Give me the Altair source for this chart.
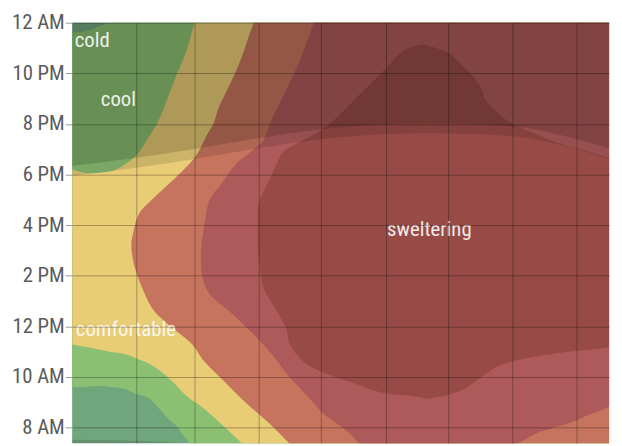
import altair as alt
import pandas as pd

# ---------------- data ----------------
# x: day of year (0 = Jan 1), y: hour of day (24 = 12 AM at top)
MONTH_STARTS = [31, 59, 90, 120, 151, 181, 212, 243]
HOUR_TICKS = [8, 10, 12, 14, 16, 18, 20, 22, 24]

# "cool" band: per day, lower (morning) and upper (night) hour limits
cool_day = [0, 5.7, 11.4, 14.3, 18.5, 25.7, 30.4, 36.6, 42.8, 46.1, 50.9, 54.2, 56.6, 62, 262]
cool_lo = [9.61, 9.61, 9.65, 9.65, 9.61, 9.53, 9.34, 9.18, 8.67, 8.36, 8.01, 7.62, 7.39, 6.8, 6.5]
cool_hi = [23.61, 23.65, 23.80, 23.90, 24.0, 24.5, 24.8, 25, 25, 25, 25, 25, 25, 25, 25]

# "comfortable" band
comf_day = [0, 8.1, 17.6, 25.7, 31.9, 36.6, 41.4, 49.5, 55.6, 59.0, 60.4, 65, 73.2, 80.8, 90, 262]
comf_lo = [11.29, 11.17, 11.01, 10.90, 10.70, 10.55, 10.31, 9.73, 9.22, 9.02, 8.95, 8.65, 8.05, 7.46, 6.8, 6.5]
comf_hi = [18.2, 18.05, 18.11, 18.42, 18.85, 19.44, 20.10, 21.78, 23.02, 24.0, 24.3, 25.5, 26, 26, 26, 26]

# "warm" band: per hour, first day of the band (runs to the right edge)
warm_hour = [7.0, 7.39, 8.17, 8.95, 9.84, 10.62, 11.36, 11.99, 12.57, 13.24, 13.90, 14.56, 15.22,
             15.73, 16.59, 16.98, 17.49, 17.88, 18.66, 19.59, 20.10, 20.49, 21.35, 22.17, 24.0, 24.5]
warm_start = [110, 104.6, 95.1, 84.2, 73.2, 63.7, 57.1, 47.6, 39.9, 35.2, 31.9, 29.5, 28.5,
              29.5, 33.3, 38.0, 44.7, 49.9, 59.0, 65.1, 68.5, 69.9, 74.7, 79.4, 87.5, 90]
warm_end = [265] * 26

# "hot" band
hot_hour = [7.0, 7.39, 7.78, 8.28, 8.44, 8.83, 9.26, 10.15, 10.82, 11.68, 12.57, 13.24, 13.86,
            14.56, 15.22, 16.0, 16.98, 17.68, 18.46, 19.32, 20.10, 20.88, 22.17, 24.0, 24.5]
hot_start = [145, 138.4, 133.6, 125.5, 122.7, 117.9, 113.2, 103.2, 97.0, 87.5, 76.1, 66.6, 63.0,
             62.0, 62.3, 63.7, 66.1, 72.3, 79.4, 91.8, 95.6, 100.3, 107.9, 116.5, 119]
hot_end = [205, 215, 224, 243, 247, 258.7, 264, 265, 265, 265, 265, 265, 265,
           265, 265, 265, 265, 265, 265, 265, 265, 265, 265, 265, 265]

# "sweltering" band
swel_hour = [9.14, 9.26, 9.34, 9.49, 9.73, 10.12, 10.51, 10.82, 11.01, 11.17, 11.32, 11.91, 12.30,
             12.88, 13.35, 14.37, 15.42, 16.47, 16.98, 17.49, 18.15, 18.50, 18.66, 18.81, 19.05,
             19.32, 19.59, 19.98, 20.49, 20.88, 21.46, 22.05, 22.44, 22.83, 23.02, 23.14]
swel_start = [170.7, 162.6, 152.6, 145.0, 136.9, 122.7, 113.2, 108.9, 107.0, 106.0, 104.6, 103.2, 100.8,
              96.6, 93.2, 90.3, 89.4, 89.4, 90.3, 93.2, 97.0, 98.9, 99.9, 100.8, 104.1,
              110.3, 116.5, 123.6, 130.3, 135.0, 142.2, 149.3, 154.0, 158.8, 162.6, 169.0]
swel_end = [170.7, 179.7, 183.1, 187.8, 192.6, 199.2, 207.8, 224.0, 240.1, 258.7, 265, 265, 265,
            265, 265, 265, 265, 265, 265, 265, 265, 265, 258.7, 253.0, 242.5,
            231.6, 224.0, 212.6, 204.5, 199.7, 196.9, 191.2, 186.4, 180.7, 174.5, 169.0]

# daylight shading
sun_day = [0, 31, 59, 90, 120, 151, 172, 212, 243, 262]
dusk = [18.34, 18.66, 19.01, 19.44, 19.79, 19.98, 20.02, 19.90, 19.40, 18.95]
sunset = [17.95, 18.27, 18.62, 19.05, 19.40, 19.59, 19.63, 19.51, 19.01, 18.55]
sunrise = [7.52, 7.48, 7.33, 6.9, 6.5, 6.3, 6.3, 6.4, 6.6, 6.7]

label_text = ["cold", "cool", "comfortable", "sweltering"]
label_day = [9.7, 22.3, 25.9, 172.1]
label_hour = [23.26, 20.96, 11.87, 15.81]

COLORS = {
    "cold": "#70a67c",
    "cool": "#8bc072",
    "comfortable": "#e8cc76",
    "warm": "#c6745e",
    "hot": "#ae5a5a",
    "sweltering": "#984b46",
}
FONT = "Roboto Condensed, Roboto, sans-serif"

# ---------------- chart ----------------
xs = alt.Scale(domain=[0, 258.7], nice=False, zero=False)
ys = alt.Scale(domain=[7.39, 24], nice=False, zero=False)

x_axis = alt.Axis(values=MONTH_STARTS, grid=True, labels=False, ticks=False, domain=False,
                  title=None, gridColor="#000000", gridOpacity=0.3, gridWidth=1, zindex=1)
y_axis = alt.Axis(values=HOUR_TICKS, grid=True, domain=False, title=None,
                  gridColor="#000000", gridOpacity=0.3, gridWidth=1, zindex=1,
                  labelExpr="datum.value % 24 == 0 ? '12 AM' : datum.value == 12 ? '12 PM' : "
                            "datum.value < 12 ? datum.value + ' AM' : (datum.value - 12) + ' PM'",
                  labelFont=FONT, labelFontSize=21, labelColor="#5a5a5a",
                  tickColor="#999999", tickSize=7, labelPadding=1)


def vband(day, lo, hi, color, opacity=1.0):
    df = pd.DataFrame({"day": day, "lo": lo, "hi": hi})
    return alt.Chart(df).mark_area(interpolate="monotone", clip=True, color=color,
                                   opacity=opacity, orient="vertical").encode(
        x=alt.X("day:Q", scale=xs, axis=x_axis),
        y=alt.Y("lo:Q", scale=ys, axis=y_axis),
        y2="hi:Q",
    )


def hband(hour, start, end, color):
    df = pd.DataFrame({"hour": hour, "start": start, "end": end})
    return alt.Chart(df).mark_area(interpolate="monotone", clip=True, color=color,
                                   orient="horizontal").encode(
        y=alt.Y("hour:Q", scale=ys, axis=y_axis),
        x=alt.X("start:Q", scale=xs, axis=x_axis),
        x2="end:Q",
    )


layers = [
    vband(cool_day, cool_lo, cool_hi, COLORS["cool"]),
    vband(comf_day, comf_lo, comf_hi, COLORS["comfortable"]),
    hband(warm_hour, warm_start, warm_end, COLORS["warm"]),
    hband(hot_hour, hot_start, hot_end, COLORS["hot"]),
    hband(swel_hour, swel_start, swel_end, COLORS["sweltering"]),
    vband(sun_day, dusk, [25] * len(sun_day), "#000000", 0.25),
    vband(sun_day, sunset, dusk, "#000000", 0.12),
    vband(sun_day, [6.0] * len(sun_day), sunrise, "#000000", 0.12),
]

labels = pd.DataFrame({"label": label_text, "day": label_day, "hour": label_hour})
text = alt.Chart(labels).mark_text(font=FONT, fontSize=21, color="#ffffff", opacity=0.88,
                                   align="center", baseline="middle").encode(
    x=alt.X("day:Q", scale=xs, axis=x_axis),
    y=alt.Y("hour:Q", scale=ys, axis=y_axis),
    text="label:N",
)

chart = alt.layer(*layers, text).properties(
    width=544,
    height=426,
    autosize=alt.AutoSizeParams(type="none"),
    padding={"left": 65, "top": 12, "right": 5, "bottom": 0},
).configure_view(fill=COLORS["cold"], strokeWidth=0)

chart.save("out.html", embed_options={"renderer": "svg", "actions": False})
